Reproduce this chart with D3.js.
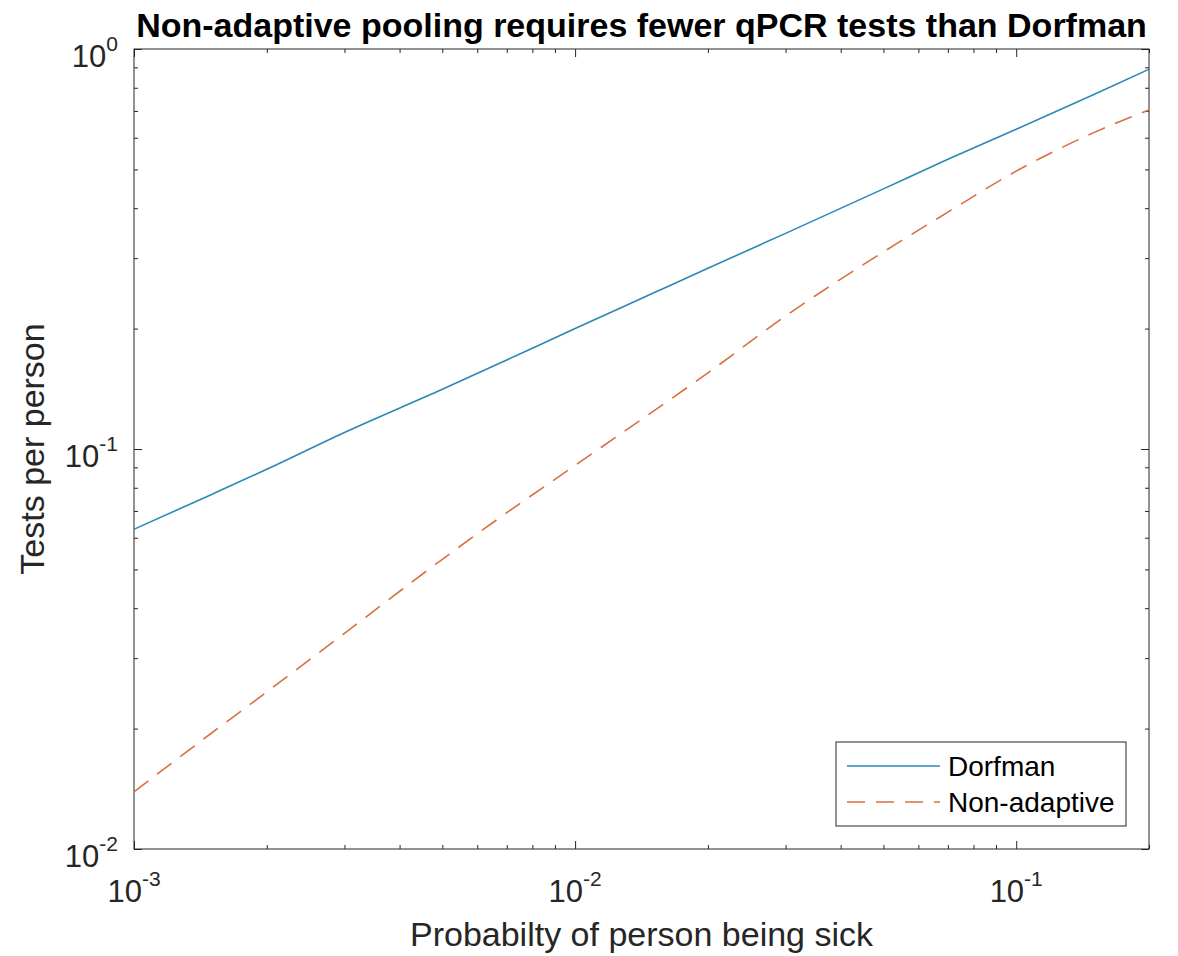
<!DOCTYPE html>
<html>
<head>
<meta charset="utf-8">
<script src="https://cdn.jsdelivr.net/npm/d3@7"></script>
<style>
  body { margin: 0; background: #fff; }
  svg text { font-family: "Liberation Sans", Arial, Helvetica, sans-serif; }
</style>
</head>
<body>
<div id="grafico"></div>
<script>
// datos
const probabilidades = [0.001, 0.0015, 0.002, 0.003, 0.005, 0.007, 0.01, 0.015, 0.02, 0.03, 0.05, 0.07, 0.1, 0.15, 0.2];
const dorfman = [0.063, 0.077, 0.089, 0.110, 0.141, 0.167, 0.200, 0.245, 0.283, 0.346, 0.447, 0.530, 0.630, 0.770, 0.890];
const noAdaptativo = [0.0139, 0.0195, 0.0247, 0.0346, 0.053, 0.0693, 0.091, 0.124, 0.155, 0.215, 0.311, 0.391, 0.495, 0.618, 0.704];
const xTicks = [1e-3, 1e-2, 1e-1];
const yTicks = [1e-2, 1e-1, 1e0];
const nombresSeries = ["Dorfman", "Non-adaptive"];
const titulo = "Non-adaptive pooling requires fewer qPCR tests than Dorfman";
const etiquetaX = "Probabilty of person being sick";
const etiquetaY = "Tests per person";

const ancho = 1178, alto = 956;
const margin = { top: 49, right: 29, bottom: 107, left: 134 };
const w = ancho - margin.left - margin.right;
const h = alto - margin.top - margin.bottom;

const colorEjes = "#262626";
const colores = ["#2b87b8", "#d8703f"];

const svg = d3.select("#grafico")
  .append("svg")
  .attr("width", ancho)
  .attr("height", alto);

const g = svg.append("g")
  .attr("transform", `translate(${margin.left},${margin.top})`);

const x = d3.scaleLog().domain([1e-3, 0.2]).range([0, w]);
const y = d3.scaleLog().domain([1e-2, 1]).range([h, 0]);

// ticks menores (2..9 de cada década)
const xMenores = x.ticks().filter(d => !xTicks.some(t => Math.abs(t - d) < d * 1e-6));
const yMenores = y.ticks().filter(d => !yTicks.some(t => Math.abs(t - d) < d * 1e-6));

function ejes(sel, gen, mayores, menores) {
  sel.append("g").call(gen.tickValues(mayores).tickSize(-8).tickFormat(""));
  sel.append("g").call(gen.tickValues(menores).tickSize(-4).tickFormat(""));
  sel.selectAll("path, line").attr("stroke", colorEjes).attr("stroke-width", 1);
  sel.selectAll(".domain").remove();
}

ejes(g.append("g").attr("transform", `translate(0,${h})`), d3.axisBottom(x), xTicks, xMenores);
ejes(g.append("g"), d3.axisTop(x), xTicks, xMenores);
ejes(g.append("g"), d3.axisLeft(y), yTicks, yMenores);
ejes(g.append("g").attr("transform", `translate(${w},0)`), d3.axisRight(y), yTicks, yMenores);

// caja
g.append("rect")
  .attr("x", 0).attr("y", 0)
  .attr("width", w).attr("height", h)
  .attr("fill", "none")
  .attr("stroke", colorEjes)
  .attr("stroke-width", 1);

// etiquetas de ticks con exponente
function potencia(sel, v) {
  const e = Math.round(Math.log10(v));
  sel.append("tspan").text("10");
  sel.append("tspan")
    .attr("font-size", 21)
    .attr("dy", -16)
    .text(e);
}

g.selectAll(".xlab")
  .data(xTicks)
  .enter()
  .append("text")
  .attr("class", "xlab")
  .attr("x", d => x(d))
  .attr("y", h + 53)
  .attr("text-anchor", "middle")
  .attr("font-size", 31)
  .attr("fill", colorEjes)
  .each(function(d) { potencia(d3.select(this), d); });

g.selectAll(".ylab")
  .data(yTicks)
  .enter()
  .append("text")
  .attr("class", "ylab")
  .attr("x", -16)
  .attr("y", d => y(d) + 18)
  .attr("text-anchor", "end")
  .attr("font-size", 31)
  .attr("fill", colorEjes)
  .each(function(d) { potencia(d3.select(this), d); });

// líneas
const datos = [dorfman, noAdaptativo].map(serie => serie.map((v, i) => ({ p: probabilidades[i], v })));

const linea = d3.line()
  .x(d => x(d.p))
  .y(d => y(d.v))
  .curve(d3.curveMonotoneX);

g.selectAll(".serie")
  .data(datos)
  .enter()
  .append("path")
  .attr("class", "serie")
  .attr("fill", "none")
  .attr("stroke", (d, i) => colores[i])
  .attr("stroke-width", 1.6)
  .attr("stroke-dasharray", (d, i) => i === 1 ? "18,11" : null)
  .attr("d", linea);

// leyenda
const leyenda = svg.append("g");
leyenda.append("rect")
  .attr("x", 836).attr("y", 742)
  .attr("width", 290).attr("height", 84)
  .attr("fill", "#fff")
  .attr("stroke", colorEjes)
  .attr("stroke-width", 1);

nombresSeries.forEach((nombre, i) => {
  const yy = 766 + i * 36;
  leyenda.append("line")
    .attr("x1", 847).attr("x2", 940)
    .attr("y1", yy).attr("y2", yy)
    .attr("stroke", colores[i])
    .attr("stroke-width", 1.6)
    .attr("stroke-dasharray", i === 1 ? "18,11" : null);
  leyenda.append("text")
    .attr("x", 948)
    .attr("y", yy + 10)
    .attr("font-size", 28)
    .attr("fill", "#000")
    .text(nombre);
});

// títulos
svg.append("text")
  .attr("x", margin.left + w / 2)
  .attr("y", 37)
  .attr("text-anchor", "middle")
  .attr("font-size", 34)
  .attr("font-weight", "bold")
  .attr("fill", "#000")
  .text(titulo);

svg.append("text")
  .attr("x", margin.left + w / 2)
  .attr("y", 946)
  .attr("text-anchor", "middle")
  .attr("font-size", 34)
  .attr("fill", colorEjes)
  .text(etiquetaX);

svg.append("text")
  .attr("transform", `translate(44,${margin.top + h / 2}) rotate(-90)`)
  .attr("text-anchor", "middle")
  .attr("font-size", 34)
  .attr("fill", colorEjes)
  .text(etiquetaY);
</script>
</body>
</html>
